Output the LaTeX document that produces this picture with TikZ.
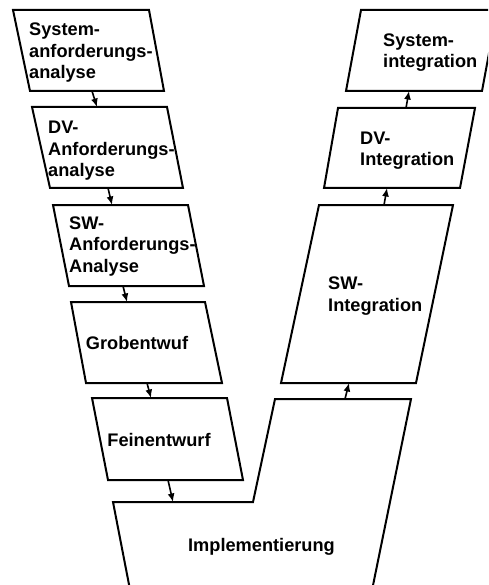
\documentclass[tikz,border=0pt]{standalone}
\usepackage{fontspec}
\setmainfont{Liberation Sans}
\usetikzlibrary{arrows.meta}
\begin{document}
\begin{tikzpicture}[x=1pt,y=-1pt,
  box/.style={draw=black,line width=2pt,line join=miter},
  lbl/.style={font=\fontsize{18.2}{21.5}\selectfont\bfseries,inner sep=0pt,align=left},
  arr/.style={line width=1.6pt,-{Latex[length=8.5pt,width=7pt]}}]
\useasboundingbox (0,0) rectangle (488,585);
\begin{scope}
\clip (0,0) rectangle (488,585);
% left branch
\draw[box] (13,10) -- (149,10) -- (164,91) -- (30,91) -- cycle;
\draw[box] (32,107) -- (167,107) -- (183,188) -- (50,188) -- cycle;
\draw[box] (53,205) -- (188,205) -- (204,286) -- (69,286) -- cycle;
\draw[box] (71,302) -- (205,302) -- (222,383) -- (86,383) -- cycle;
\draw[box] (92,398) -- (227,398) -- (243,480) -- (108,480) -- cycle;
% bottom
\draw[box] (132,600) -- (113,502) -- (253,502) -- (275,399) -- (411,399) -- (370,600);
% right branch
\draw[box] (319,205) -- (453,205) -- (416,383) -- (281,383) -- cycle;
\draw[box] (338,108) -- (475,108) -- (460,188) -- (324,188) -- cycle;
\draw[box] (361,10) -- (497,10) -- (482,91) -- (346,91) -- cycle;
\end{scope}
% labels (base anchor = baseline of last line)
\node[lbl,anchor=base west] (t1) at (29,79) {System-\\anforderungs-\\analyse};
\node[lbl,anchor=base west] (t2) at (48,177) {DV-\\Anforderungs-\\analyse};
\node[lbl,anchor=base west] (t3) at (69,272) {SW-\\Anforderungs-\\Analyse};
\node[lbl,anchor=base] (t4) at (137,349.5) {Grobentwuf};
\node[lbl,anchor=base] (t5) at (159,446) {Feinentwurf};
\node[lbl,anchor=base] (t6) at (261.5,551.5) {Implementierung};
\node[lbl,anchor=base west] (t7) at (328,311) {SW-\\Integration};
\node[lbl,anchor=base west] (t8) at (360,166) {DV-\\Integration};
\node[lbl,anchor=base west] (t9) at (383,68) {System-\\integration};
% connector ends
\coordinate (a1s) at (92,91);   \coordinate (a1e) at (97,107);
\coordinate (a2s) at (108,188); \coordinate (a2e) at (112,205);
\coordinate (a3s) at (123,286); \coordinate (a3e) at (127,302);
\coordinate (a4s) at (147,383); \coordinate (a4e) at (151,398);
\coordinate (a5s) at (168,480); \coordinate (a5e) at (173,502);
\coordinate (a6s) at (345,399); \coordinate (a6e) at (349,383);
\coordinate (a7s) at (384,205); \coordinate (a7e) at (387,188);
\coordinate (a8s) at (406,108); \coordinate (a8e) at (409,91);
\foreach \i in {1,...,8} \draw[arr] (a\i s) -- (a\i e);
\end{tikzpicture}
\end{document}
